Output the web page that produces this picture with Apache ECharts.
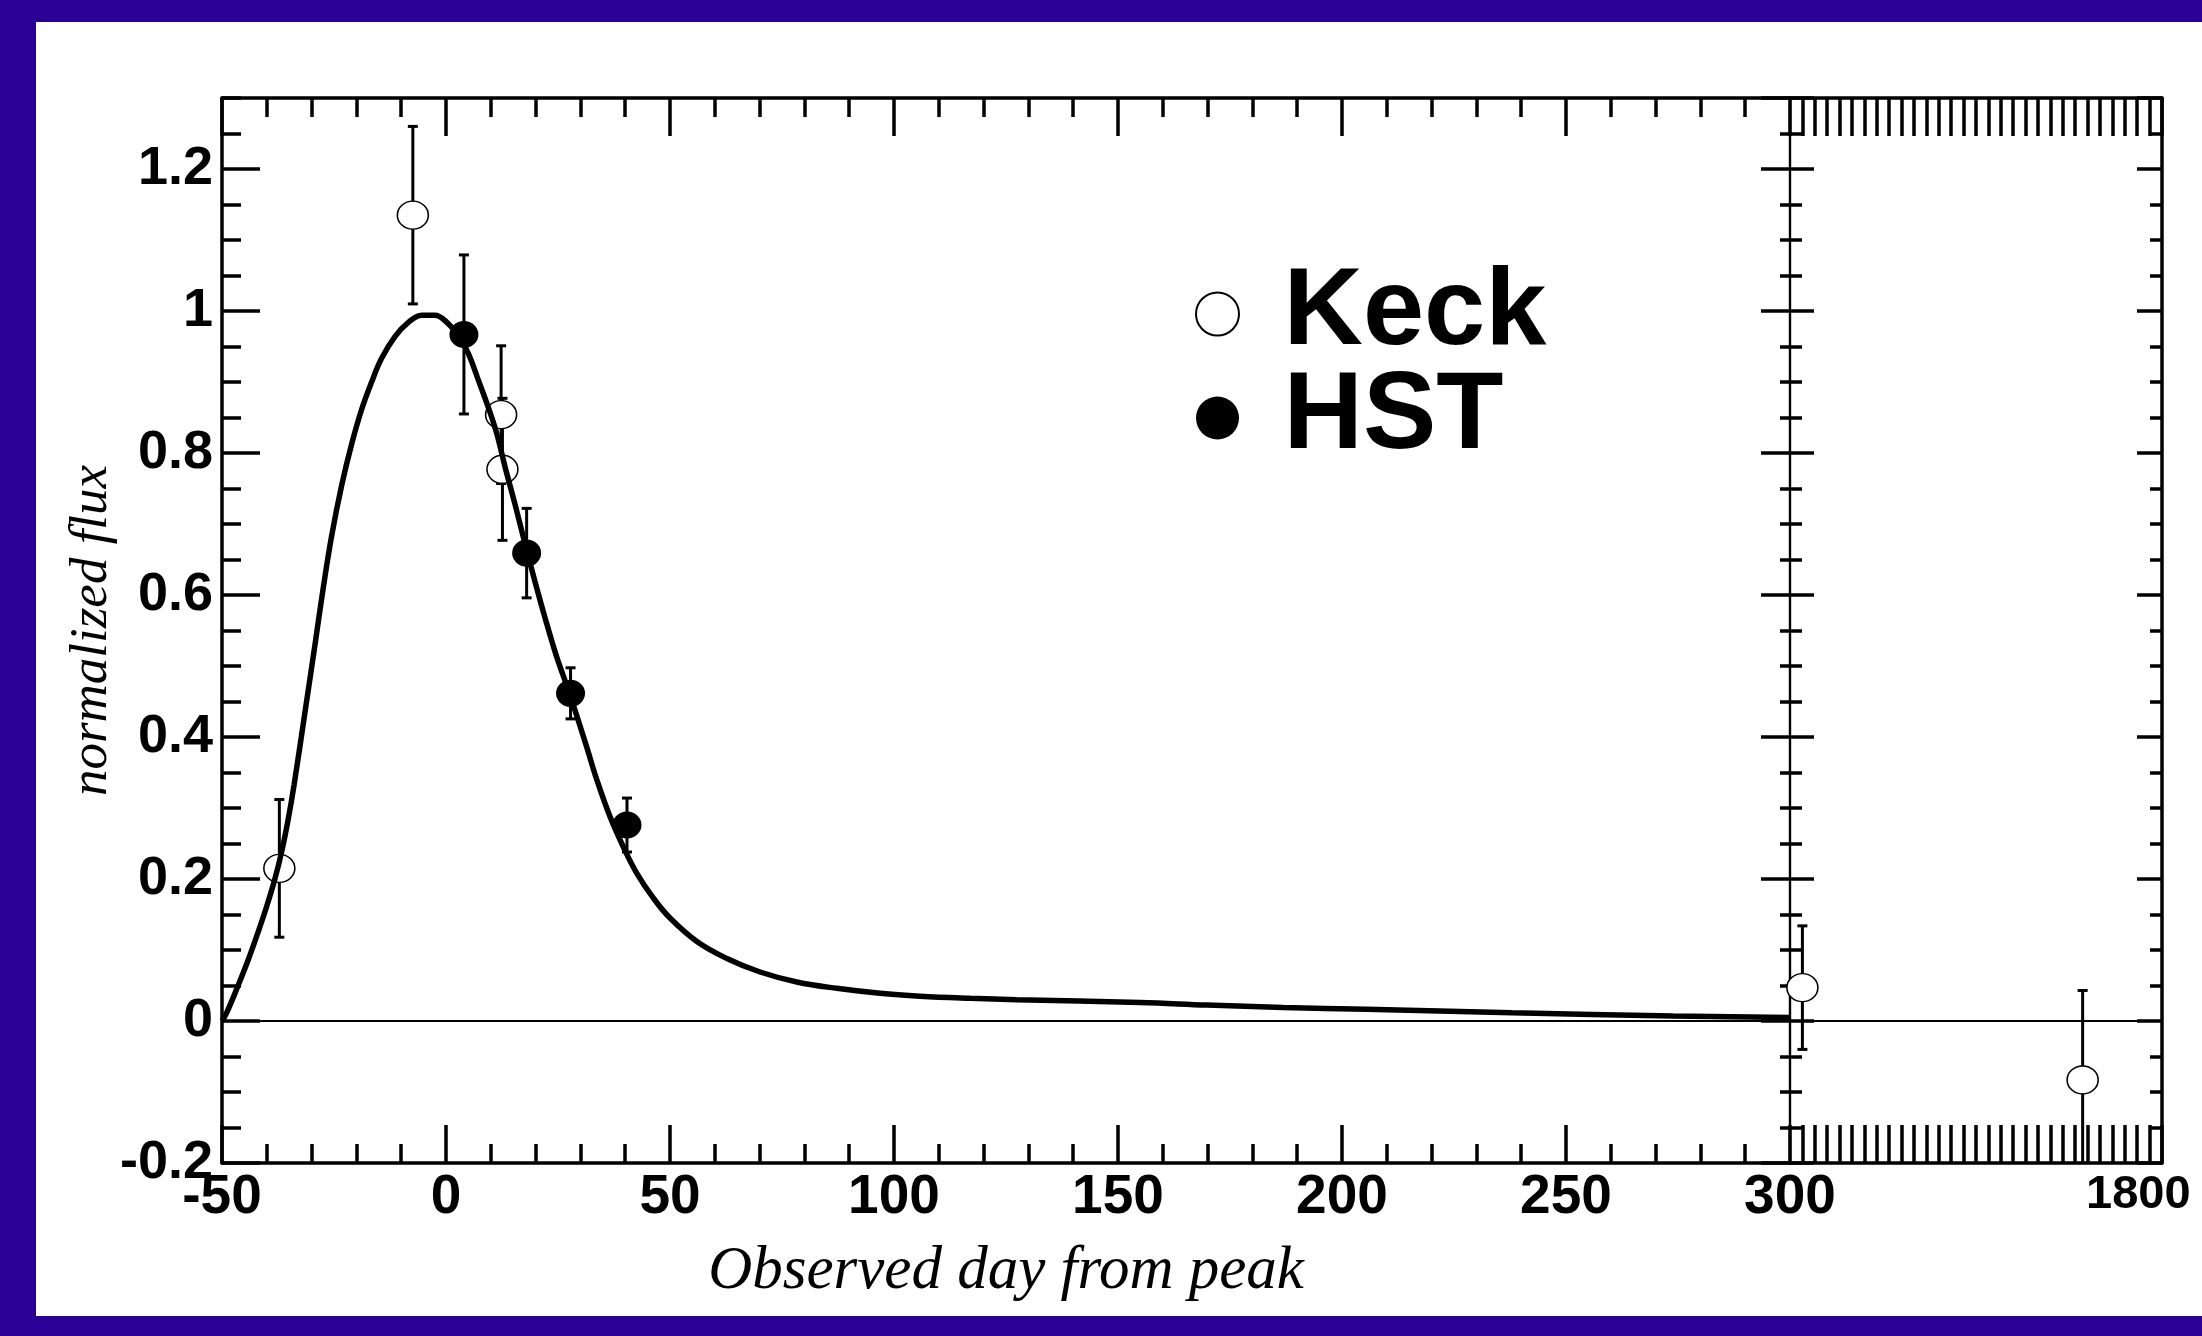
<!DOCTYPE html>
<html>
<head>
<meta charset="utf-8">
<script src="https://cdn.jsdelivr.net/npm/echarts@6/dist/echarts.min.js"></script>
<style>
html,body{margin:0;padding:0;background:#2b0096;width:2202px;height:1336px;overflow:hidden}
#chart{position:absolute;left:36px;top:22px;width:2166px;height:1294px;background:#fff}
</style>
</head>
<body>
<div id="chart"></div>
<script>
// ---- fitted light curve ----
const curveDays = [-50,-49,-46.4,-44.1,-41.9,-40,-38.2,-36.7,-35.2,-33.9,-31.5,-29.2,-27.4,-25.5,-23.3,-21,-18.8,-16.6,-14.4,-11.4,-8.4,-5.4,-2.5,0.2,2.7,5,7.2,9.4,11.3,13.2,15.4,17.6,19.9,22.1,24.6,27.8,31.4,33.6,36.6,39.6,42.6,46.3,50,56,62.7,70.1,78.3,87.2,96.9,105.8,117,127.4,154.9,169.8,186.9,205.5,237.9,273.9,300];
const curveFlux = [0,0.011,0.05,0.087,0.126,0.162,0.2,0.238,0.285,0.333,0.434,0.532,0.61,0.684,0.754,0.814,0.862,0.9,0.933,0.964,0.984,0.994,0.994,0.984,0.966,0.94,0.903,0.865,0.828,0.78,0.728,0.673,0.618,0.568,0.515,0.457,0.386,0.341,0.288,0.245,0.208,0.173,0.145,0.112,0.088,0.069,0.055,0.046,0.039,0.035,0.032,0.03,0.026,0.0225,0.019,0.0165,0.0117,0.007,0.005];

// ---- Keck (open) ----
const keckDays = [-37.2, -7.4, 12.3, 12.6, 350, 1480];
const keckFlux = [0.215, 1.135, 0.854, 0.777, 0.047, -0.083];
const keckErr  = [0.097, 0.125, 0.097, 0.1, 0.087, 0.126];

// ---- HST (filled) ----
const hstDays = [4.0, 18.0, 27.8, 40.4];
const hstFlux = [0.967, 0.659, 0.4615, 0.276];
const hstErr  = [0.112, 0.063, 0.036, 0.038];

// ---- axes ----
const xLeftMin = -50, xBreak = 300, xRightMax = 1800;
const yMin = -0.2, yMax = 1.3;
const seriesNames = ['Keck', 'HST'];
const xTitle = 'Observed day from peak';
const yTitle = 'normalized flux';

function pts(d, f, lo, hi) { return d.map((v, i) => [v, f[i]]).filter(p => p[0] >= lo && p[0] <= hi); }
function errs(d, f, e, lo, hi) { return d.map((v, i) => [v, f[i] - e[i], f[i] + e[i]]).filter(p => p[0] >= lo && p[0] <= hi); }
const curve = curveDays.map((v, i) => [v, curveFlux[i]]);

function errRender(params, api) {
  const x = api.value(0), lo = api.value(1), hi = api.value(2);
  const t = api.coord([x, hi]), b = api.coord([x, lo]);
  const c = 5;
  const st = { stroke: '#000', lineWidth: 3 };
  return { type: 'group', children: [
    { type: 'line', shape: { x1: t[0], y1: t[1], x2: b[0], y2: b[1] }, style: st },
    { type: 'line', shape: { x1: t[0] - c, y1: t[1], x2: t[0] + c, y2: t[1] }, style: st },
    { type: 'line', shape: { x1: b[0] - c, y1: b[1], x2: b[0] + c, y2: b[1] }, style: st }
  ]};
}

const lblFont = { fontFamily: 'Liberation Sans', fontWeight: 'bold', color: '#000' };
const noLbl = { show: false };
const noSplit = { show: false };
const TW = 3.5;

function xAx(grid, pos, min, max, interval, lineW, tickLen, extra) {
  return Object.assign({
    type: 'value', gridIndex: grid, position: pos, min: min, max: max, interval: interval,
    axisLine: { show: lineW > 0, onZero: false, lineStyle: { color: '#000', width: lineW } },
    axisTick: { show: tickLen > 0, inside: true, length: tickLen, lineStyle: { color: '#000', width: TW } },
    axisLabel: noLbl, splitLine: noSplit
  }, extra || {});
}
function yAx(grid, pos, interval, lineW, tickLen, extra) {
  return Object.assign({
    type: 'value', gridIndex: grid, position: pos, min: yMin, max: yMax, interval: interval,
    axisLine: { show: lineW > 0, onZero: false, lineStyle: { color: '#000', width: lineW } },
    axisTick: { show: true, inside: true, length: tickLen, lineStyle: { color: '#000', width: TW } },
    axisLabel: noLbl, splitLine: noSplit
  }, extra || {});
}

const option = {
  animation: false,
  backgroundColor: '#fff',
  grid: [
    { left: 186, top: 76, width: 1568, height: 1065, outerBoundsMode: 'none' },
    { left: 1754, top: 76, width: 372, height: 1065, outerBoundsMode: 'none' }
  ],
  xAxis: [
    xAx(0, 'bottom', xLeftMin, xBreak, 50, 3.5, 38, {
      axisLabel: Object.assign({ show: true, fontSize: 55, margin: 7 }, lblFont),
      name: xTitle, nameLocation: 'middle', nameGap: 78,
      nameTextStyle: { fontFamily: 'Liberation Serif', fontStyle: 'italic', fontSize: 61, color: '#000' }
    }),
    xAx(0, 'bottom', xLeftMin, xBreak, 10, 0, 19),
    xAx(0, 'top', xLeftMin, xBreak, 50, 3.5, 38),
    xAx(0, 'top', xLeftMin, xBreak, 10, 0, 19),
    { type: 'value', gridIndex: 0, position: 'bottom', min: xLeftMin, max: xBreak,
      axisLine: { show: true, onZero: true, onZeroAxisIndex: 0, lineStyle: { color: '#000', width: 2.2 } },
      axisTick: { show: false }, axisLabel: noLbl, splitLine: noSplit },
    xAx(1, 'bottom', xBreak, xRightMax, 50, 3.5, 38, {
      axisLabel: Object.assign({
        show: true, fontSize: 47, margin: 9, showMinLabel: false, alignMaxLabel: 'right',
        formatter: v => (v === xRightMax ? '{a|' + v + '}' : ''),
        rich: { a: Object.assign({ width: 76, align: 'left', fontSize: 47 }, lblFont) }
      }, lblFont)
    }),
    xAx(1, 'top', xBreak, xRightMax, 50, 3.5, 38),
    { type: 'value', gridIndex: 1, position: 'bottom', min: xBreak, max: xRightMax,
      axisLine: { show: true, onZero: true, onZeroAxisIndex: 4, lineStyle: { color: '#000', width: 2.2 } },
      axisTick: { show: false }, axisLabel: noLbl, splitLine: noSplit }
  ],
  yAxis: [
    yAx(0, 'left', 0.2, 3.5, 38, {
      axisLabel: Object.assign({ show: true, fontSize: 54, margin: 9, showMaxLabel: false }, lblFont),
      name: yTitle, nameLocation: 'middle', nameGap: 103, nameMoveOverlap: false,
      nameTextStyle: { fontFamily: 'Liberation Serif', fontStyle: 'italic', fontSize: 53, color: '#000' }
    }),
    yAx(0, 'left', 0.05, 0, 19),
    yAx(0, 'right', 0.2, 2.2, 29),
    yAx(0, 'right', 0.05, 0, 10),
    yAx(1, 'left', 0.2, 2.2, 24),
    yAx(1, 'left', 0.05, 0, 12),
    yAx(1, 'right', 0.2, 3.5, 25),
    yAx(1, 'right', 0.05, 0, 12)
  ],
  legend: {
    data: seriesNames, orient: 'vertical', left: 1154, top: 232,
    itemWidth: 50, itemHeight: 43, itemGap: -6, selectedMode: false, icon: 'circle',
    textStyle: { fontFamily: 'Liberation Sans', fontWeight: 'bold', fontSize: 110, color: '#000', padding: [0, 0, 0, 36] }
  },
  series: [
    { type: 'custom', name: 'KeckErrL', xAxisIndex: 0, yAxisIndex: 0, renderItem: errRender, clip: true, z: 2,
      data: errs(keckDays, keckFlux, keckErr, xLeftMin, xBreak) },
    { type: 'custom', name: 'HSTErrL', xAxisIndex: 0, yAxisIndex: 0, renderItem: errRender, clip: true, z: 2,
      data: errs(hstDays, hstFlux, hstErr, xLeftMin, xBreak) },
    { type: 'custom', name: 'KeckErrR', xAxisIndex: 5, yAxisIndex: 4, renderItem: errRender, clip: true, z: 2,
      data: errs(keckDays, keckFlux, keckErr, xBreak + 1e-9, xRightMax) },
    { type: 'scatter', name: 'Keck', xAxisIndex: 0, yAxisIndex: 0, symbol: 'circle', symbolSize: [31, 28], z: 3,
      itemStyle: { color: '#fff', borderColor: '#000', borderWidth: 1.5, opacity: 1 },
      data: pts(keckDays, keckFlux, xLeftMin, xBreak) },
    { type: 'scatter', name: 'HST', xAxisIndex: 0, yAxisIndex: 0, symbol: 'circle', symbolSize: [29, 27], z: 3,
      itemStyle: { color: '#000', opacity: 1 },
      data: pts(hstDays, hstFlux, xLeftMin, xBreak) },
    { type: 'scatter', name: 'Keck', xAxisIndex: 5, yAxisIndex: 4, symbol: 'circle', symbolSize: [31, 28], z: 3,
      itemStyle: { color: '#fff', borderColor: '#000', borderWidth: 1.5, opacity: 1 },
      data: pts(keckDays, keckFlux, xBreak + 1e-9, xRightMax) },
    { type: 'line', name: 'fit', xAxisIndex: 0, yAxisIndex: 0, showSymbol: false, symbol: 'none',
      smooth: 0.4, z: 4, clip: true,
      lineStyle: { color: '#000', width: 5.5 }, data: curve }
  ]
};

const chart = echarts.init(document.getElementById('chart'));
chart.setOption(option);
</script>
</body>
</html>
